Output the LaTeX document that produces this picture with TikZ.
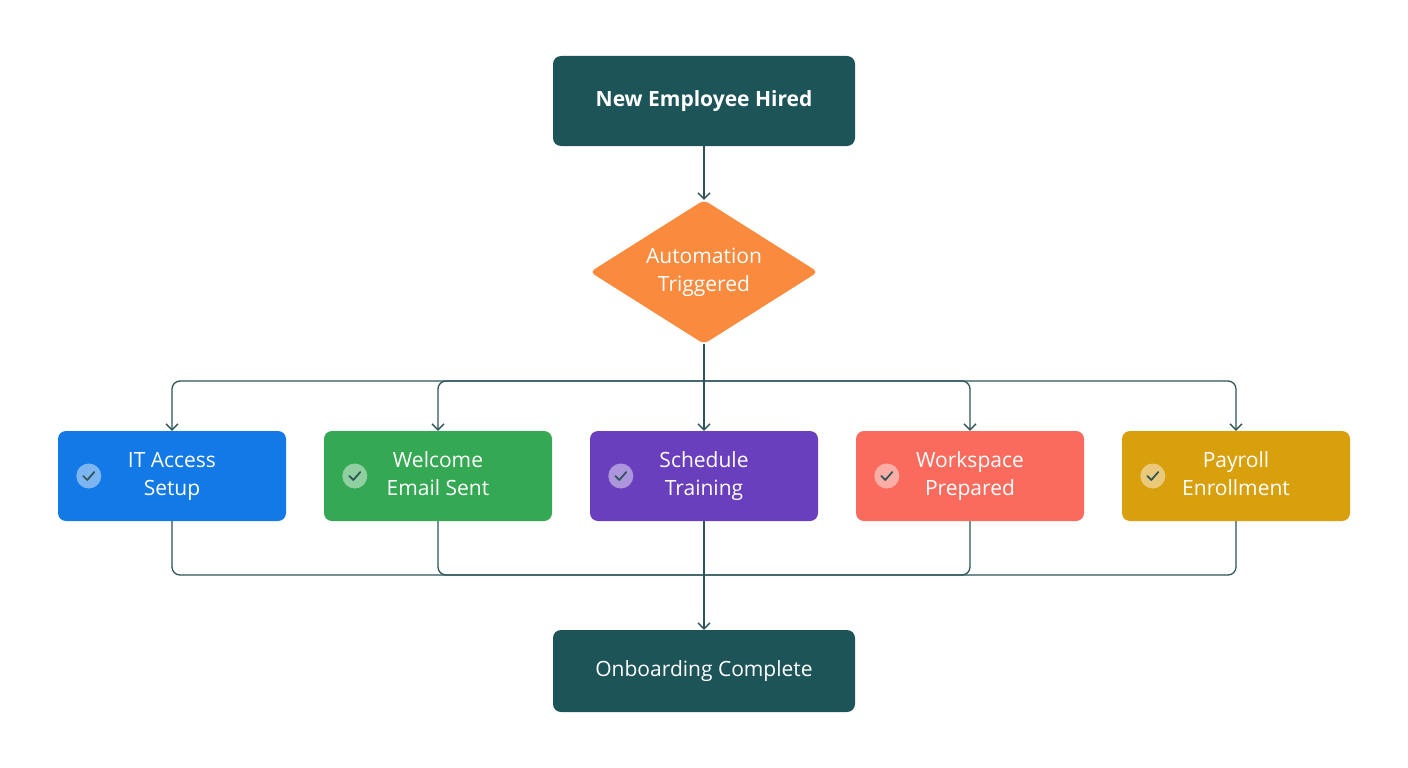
\documentclass[tikz,border=0pt]{standalone}
\usepackage{fontspec}
\setmainfont{Open Sans}
\usetikzlibrary{shapes.geometric,arrows.meta}
\definecolor{teal}{HTML}{1D5458}
\definecolor{lin}{HTML}{2D5558}
\definecolor{orng}{HTML}{F98A3E}
\definecolor{cblue}{HTML}{1279E6}
\definecolor{cgreen}{HTML}{34A853}
\definecolor{cpurple}{HTML}{6A3FBE}
\definecolor{cred}{HTML}{FA6B5E}
\definecolor{cgold}{HTML}{D9A00E}
\newcommand{\twol}[2]{#1\strut\\#2\strut}
\begin{document}
\begin{tikzpicture}[x=1pt,y=-1pt,
  main/.style={rectangle,rounded corners=8pt,fill=teal,text=white,minimum width=302pt,minimum height=#1},
  task/.style={rectangle,rounded corners=8pt,fill=#1,text=white,minimum width=228pt,minimum height=90pt,align=center,font=\fontsize{21}{28}\selectfont},
  chk/.style={circle,fill=white,fill opacity=0.45,minimum size=25pt,inner sep=0pt},
  conn/.style={draw=lin,line width=1.3pt,rounded corners=8pt},
  arr/.style={conn,-{Straight Barb[length=6pt,width=12pt]}}]
\useasboundingbox[fill=white] (0,0) rectangle (1408,768);
\node[main=90pt,font=\fontsize{21}{24}\selectfont\bfseries] (start) at (704,101) {New Employee Hired};
\node[diamond,fill=orng,minimum width=228pt,minimum height=144pt,inner sep=0pt,rounded corners=5pt] (auto) at (704,272) {};
\node[text=white,align=center,font=\fontsize{21}{28}\selectfont] (autot) at (auto.center) {\twol{Automation}{Triggered}};
\node[task=cblue] (t1) at (172,476) {\twol{IT Access}{Setup}};
\node[task=cgreen] (t2) at (438,476) {\twol{Welcome}{Email Sent}};
\node[task=cpurple] (t3) at (704,476) {\twol{Schedule}{Training}};
\node[task=cred] (t4) at (970,476) {\twol{Workspace}{Prepared}};
\node[task=cgold] (t5) at (1236,476) {\twol{Payroll}{Enrollment}};
\foreach \t in {t1,t2,t3,t4,t5}{
  \node[chk] (\t c) at ([xshift=31pt]\t.west) {};
  \draw[lin,line width=1.7pt,line cap=round,line join=round] ([xshift=-5.5pt,yshift=0pt]\t c.center) -- ([xshift=-1.5pt,yshift=-4pt]\t c.center) -- ([xshift=5.5pt,yshift=4pt]\t c.center);
}
\node[main=82pt,font=\fontsize{21}{24}\selectfont] (end) at (704,671) {Onboarding Complete};
\coordinate (top) at (704,381);
\coordinate (bot) at (704,575);
\draw[arr] (start) -- (auto);
\draw[conn] (auto.south) -- (top);
\foreach \t in {t1,t2,t3,t4,t5}{
  \draw[arr] (top) -| (\t.north);
  \draw[conn] (\t.south) |- (bot);
}
\draw[arr] (bot) -- (end);
\end{tikzpicture}
\end{document}
